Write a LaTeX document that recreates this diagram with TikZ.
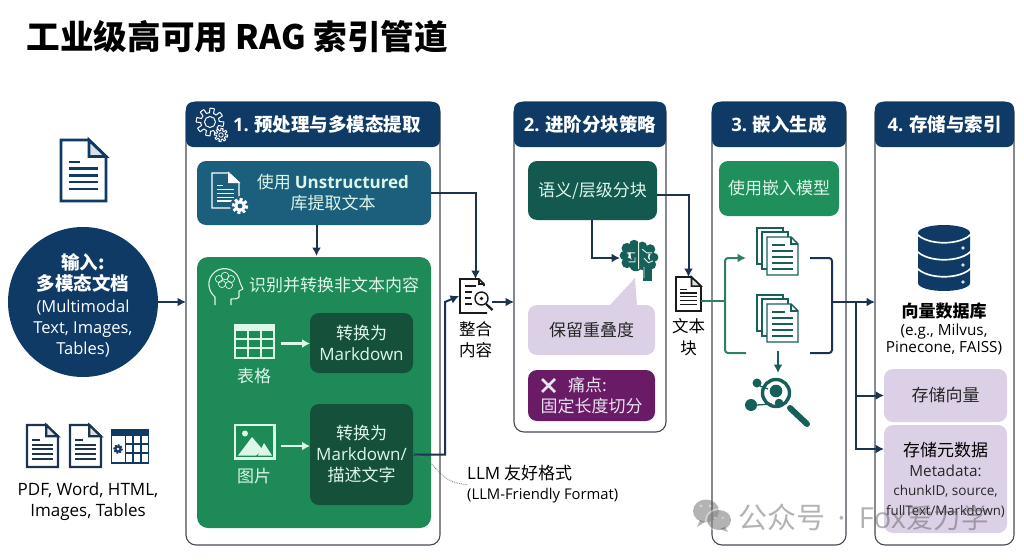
\documentclass[tikz,border=0pt]{standalone}
\usepackage{fontspec}
\setmainfont{Noto Sans CJK SC}
\newfontfamily\lat{Open Sans}
\usetikzlibrary{arrows.meta,calc}
\definecolor{navy}{HTML}{0F3A66}
\definecolor{ink}{HTML}{1B3350}
\definecolor{docblack}{HTML}{1A1A1A}
\definecolor{teala}{HTML}{1C5F7C}
\definecolor{greena}{HTML}{1D8A57}
\definecolor{greenb}{HTML}{14503A}
\definecolor{greenc}{HTML}{1F8F5C}
\definecolor{tealb}{HTML}{14594F}
\definecolor{tealc}{HTML}{17605A}
\definecolor{lilac}{HTML}{DCD0E6}
\definecolor{plum}{HTML}{6A1B66}
\definecolor{mint}{HTML}{DDF6EA}
\definecolor{linkgreen}{HTML}{2D7F5E}
\definecolor{panelline}{HTML}{454B55}
\newcommand\fz[2]{\fontsize{#1}{#2}\selectfont}
\tikzset{
  block/.style={inner sep=0pt,outer sep=0pt,align=center},
  panelbox/.style={block,draw=panelline,line width=1.1pt,fill=white,rounded corners=10pt},
  headerbox/.style={block,fill=navy,rounded corners=7pt,text=white,font=\fz{18.5}{23}\bfseries},
  innerbox/.style={block,rounded corners=9pt,text=mint,font=\fz{17}{21}},
  lilacbox/.style={block,rounded corners=9pt,fill=lilac,text=black!85,font=\fz{17}{21}},
  conn/.style={draw=ink,line width=2pt,-{Latex[length=8.5pt,width=9pt]}},
  plainconn/.style={draw=ink,line width=2pt},
  greenconn/.style={draw=linkgreen,line width=2pt,rounded corners=3pt},
  mintarrow/.style={draw=mint,line width=2.2pt,-{Latex[length=8pt,width=9pt]}},
  hook/.style={inner sep=0pt,outer sep=0pt,minimum size=0pt},
  label/.style={inner sep=0pt,align=center,font=\fz{17}{21}},
  mark text/.style={inner sep=0pt,opacity=.42,text=black!70,font=\fz{29}{33}}
}
\newcommand\bx[6]{%
  \pgfmathsetmacro\cxx{(#3+#5)/2}\pgfmathsetmacro\cyy{(#4+#6)/2}%
  \pgfmathsetmacro\wxx{#5-#3}\pgfmathsetmacro\hyy{#6-#4}%
  \node[#1,minimum width=\wxx pt,minimum height=\hyy pt] (#2) at (\cxx,\cyy)}
\newcommand\docic[7]{%
  \pgfmathsetmacro\wxx{#3-#1}\pgfmathsetmacro\hyy{#4-#2}%
  \begin{scope}[shift={(#1,#2)},xscale=\wxx,yscale=\hyy]
    \draw[#5,fill=#6,line width=#7pt,line join=miter] (0,0)--(.62,0)--(1,.27)--(1,1)--(0,1)--cycle;
    \draw[#5,line width=#7pt,fill=#5!15] (.62,0)--(.62,.27)--(1,.27)--cycle;
    \draw[#5,line width=.85*#7pt] (.17,.36)--(.42,.36);
    \foreach \yy in {.47,.58,.69,.80}{\draw[#5,line width=.85*#7pt] (.17,\yy)--(.83,\yy);}
  \end{scope}}
\newcommand\stackic[2]{%
  \begin{scope}[shift={(#1,#2)}]
    \draw[tealc,fill=white,line width=1.4pt] (0,0) rectangle (26,36);
    \draw[tealc,fill=white,line width=1.4pt] (5,4) rectangle (31,41);
    \draw[tealc,fill=white,line width=1.4pt] (10,9)--(34,9)--(41,16)--(41,47)--(10,47)--cycle;
    \draw[tealc,line width=1.1pt] (34,9)--(34,16)--(41,16);
    \draw[tealc,line width=1.4pt] (15,17)--(28,17);
    \foreach \yy in {23,29,35,41}{\draw[tealc,line width=1.4pt] (15,\yy)--(36,\yy);}
  \end{scope}}
\newcommand\gearic[5]{%
  \draw[shift={(#1,#2)},#4,fill=#5,line join=round] plot[domain=0:360,samples=97] (\x:{#3*(1+.2*sign(sin(8*\x+4)))}) -- cycle;}
\begin{document}
\begin{tikzpicture}[x=1pt,y=-1pt]
\useasboundingbox (0,0) rectangle (1024,559);
\fill[white] (0,0) rectangle (1024,559);
\node[inner sep=0pt,anchor=west,font=\fz{33.6}{37}\bfseries] (title) at (26.5,37) {工业级高可用 RAG 索引管道};

% ---------- input column
\node[circle,fill=navy,minimum size=150pt,inner sep=0pt,outer sep=0pt] (input) at (83,302) {};
\node[inner sep=0pt,align=center,text=white,font=\fz{17}{21.3}] (inputlabel) at (83,305.5)
 {{\fz{18.5}{24}\bfseries 输入:}\\{\fz{18.5}{24}\bfseries 多模态文档}\\{\lat\fz{16.5}{21}(Multimodal}\\{\lat\fz{16.5}{21}Text, Images,}\\{\lat\fz{16.5}{21}Tables)}};
\docic{61}{140}{106}{201}{navy}{white}{2.8}
\docic{27}{425}{58}{467}{ink}{white}{2.2}
\docic{70}{425}{101}{467}{ink}{white}{2.2}
\begin{scope}
  \draw[navy,fill=white,line width=1.8pt] (111.5,429.5) rectangle (148.5,463);
  \fill[navy] (111,429) rectangle (149,436);
  \foreach \xx in {125.5,133,141}{\draw[navy,line width=1.5pt] (\xx,436)--(\xx,463);}
  \foreach \yy in {444,453}{\draw[navy,line width=1.5pt] (125.5,\yy)--(149,\yy);}
  \gearic{118}{449}{3.6}{navy,line width=.6pt}{navy}
  \fill[white] (118,449) circle (1.3pt);
\end{scope}
\node[inner sep=0pt,align=center,font=\lat\fz{17}{21.5}] (formats) at (88,501.5) {PDF, Word, HTML,\\Images, Tables};

% ---------- panels
\bx{panelbox}{panelA}{186}{102}{440}{545}{};
\bx{panelbox}{panelB}{514}{102}{666}{432}{};
\bx{panelbox}{panelC}{712}{102}{846}{545}{};
\bx{panelbox}{panelD}{875}{102}{1014}{545}{};
\bx{headerbox}{headA}{186}{102}{440}{147}{\hspace*{28pt}{\lat 1.} 预处理与多模态提取};
\bx{headerbox}{headB}{514}{102}{666}{147}{{\lat 2.} 进阶分块策略};
\bx{headerbox}{headC}{712}{102}{846}{147}{{\lat 3.} 嵌入生成};
\bx{headerbox}{headD}{875}{102}{1014}{147}{{\lat 4.} 存储与索引};
\gearic{210}{122}{11.5}{white,line width=1pt}{navy}
\draw[white,line width=1pt] (210,122) circle (5.5pt);
\gearic{221}{135}{5.5}{white,line width=1pt}{navy}
\draw[white,line width=.9pt] (221,135) circle (2.2pt);

% ---------- panel 1 contents
\bx{innerbox,fill=teala}{unstr}{197}{161}{431}{225}{\hspace*{38pt}使用 {\lat\bfseries Unstructured}\\\hspace*{38pt}库提取文本};
\docic{212}{173}{239}{208}{white}{teala}{1.2}
\fill[teala] (240,206) circle (10pt);
\gearic{240}{206}{6.5}{white,line width=.5pt}{white}
\fill[teala] (240,206) circle (2.4pt);
\bx{innerbox,fill=greena,rounded corners=11pt}{nontext}{197}{257}{431}{528}{};
\node[label,text=mint,anchor=west] (nontextlabel) at (249,285) {识别并转换非文本内容};
% head and brain
\draw[mint,line width=1.1pt,line join=round] (215,305)--(215,297) .. controls (208,291) and (207,281) .. (212,275)
  .. controls (219,265) and (235,267) .. (239,279) .. controls (240,283) and (241,285) .. (243,289)
  -- (239,291) -- (239,297) .. controls (238,299) and (234,299) .. (231,299) -- (231,305);
\foreach \p/\r in {{(219,279)/3.6},{(225,276)/3.8},{(231,279)/3.6},{(222,284)/3.6},{(229,285)/3.6}}{\draw[mint,line width=.7pt] \p circle (\r pt);}
% table icon
\draw[mint,line width=1.6pt] (235,325) rectangle (274,358);
\fill[mint] (235,325) rectangle (274,331);
\foreach \yy in {339,348}{\draw[mint,line width=1.4pt] (235,\yy)--(274,\yy);}
\foreach \xx in {248,261}{\draw[mint,line width=1.4pt] (\xx,330)--(\xx,358);}
\node[hook,minimum width=39pt,minimum height=33pt] (tableicon) at (254.5,341.5) {};
\node[label,text=mint] (tablelabel) at (254,376) {表格};
\bx{innerbox,fill=greenb}{mdA}{310}{313}{413}{373}{转换为\\{\lat Markdown}};
\draw[mintarrow] (281,343.5) -- (mdA.west |- 0,343.5);
% image icon
\draw[mint,line width=2.4pt] (235,425) rectangle (274.5,458.5);
\fill[mint] (245,433.5) circle (3pt);
\fill[mint] (238,455.5)--(252,437)--(263,450)--(256,455.5)--cycle;
\fill[mint] (258,455.5)--(264,443)--(272,455.5)--cycle;
\node[hook,minimum width=40pt,minimum height=34pt] (imageicon) at (254.5,441.5) {};
\node[label,text=mint] (imagelabel) at (254,476) {图片};
\bx{innerbox,fill=greenb}{mdB}{310}{404}{413}{505}{转换为\\{\lat Markdown/}\\描述文字};
\draw[mintarrow] (281,446) -- (mdB.west |- 0,446);
\draw[conn] (unstr.south -| 316.5,0) -- (316.5,256);

% ---------- merge
\begin{scope}
  \draw[docblack,line width=1.6pt] (484,286)--(484,284)--(479,279)--(460,279)--(460,313)--(487,313);
  \draw[docblack,line width=1.1pt] (479,279)--(479,284)--(484,284);
  \foreach \yy/\xe in {286/476,292/472,298/471,304/472}{\draw[docblack,line width=1.2pt] (465,\yy)--(\xe,\yy);}
  \draw[docblack,line width=1.4pt,fill=white] (481.5,298.5) circle (6.5pt);
  \draw[docblack,line width=2.2pt] (486,304)--(492.5,310);
  \fill[docblack] (481.5,298.5) circle (1.8pt);
\end{scope}
\node[hook,minimum width=33pt,minimum height=34pt] (merge) at (475.5,296) {};
\node[label,font=\fz{16.5}{21.5}] (mergelabel) at (475.5,339.5) {整合\\内容};
\coordinate (rise) at (445,302);
\draw[conn] (unstr.east) -| (merge.north);
\draw[conn] (mdB.east) -| (rise) -- (merge.west);
\draw[conn] (merge.east |- rise) -- (panelB.west |- rise);
\draw[conn] (input.east |- rise) -- (panelA.west |- rise);
% LLM label
\node[inner sep=0pt,anchor=west,align=left,font=\fz{17}{20}] (llm) at (467,484.5) {{\lat LLM} 友好格式\\{\lat\fz{14.8}{17}(LLM-Friendly Format)}};
\draw[black!55,densely dotted,line width=.8pt] (mdB.east) .. controls (438,458) and (435,483) .. (llm.west);

% ---------- panel 2 contents
\bx{innerbox,fill=tealb}{semantic}{528}{161}{657}{220}{语义/层级分块};
\begin{scope}[shift={(639.5,260)},scale=.9]
  \fill[tealc] (-17,-5) circle (5pt) (-14,-13) circle (6pt) (-6,-17) circle (5.5pt) (3,-15) circle (5.5pt)
     (12,-12) circle (5.5pt) (16,-3) circle (5pt) (13,5) circle (5.5pt) (-14,3) circle (6pt) (-4,5) circle (7.5pt) (5,4) circle (7.5pt) (0,-6) circle (10pt);
  \fill[tealc] (4,8) rectangle (14,23);
  \draw[mint,line width=.9pt] (-1,-20)--(-1,10) (-14,-8)--(-5,-8) (-12,2)--(-5,2)--(-5,-3) (3,-12)--(8,-8)--(14,-8) (5,-2)--(10,3)--(15,1) (5,8)--(5,20);
\end{scope}
\node[hook,minimum width=38pt,minimum height=40pt] (brain) at (639,258) {};
\fill[lilac] (609,306)--(635,278)--(637,306)--cycle;
\bx{lilacbox}{overlap}{528}{305}{655}{355}{保留重叠度};
\bx{innerbox,fill=plum,text=lilac!60!white}{pain}{528}{370}{655}{421}{\hspace*{-8pt}痛点:\\固定长度切分};
\draw[lilac!60!white,line width=2.6pt] (542,379)--(555,392) (555,379)--(542,392);
\draw[conn] (semantic.south -| 592,0) |- (brain.west);
\docic{676}{277}{701}{311}{docblack}{white}{1.6}
\node[hook,minimum width=25pt,minimum height=34pt] (chunk) at (688.5,294) {};
\node[label,font=\fz{16.5}{22}] (chunklabel) at (688.5,337) {文本\\块};
\draw[conn] (semantic.east |- 0,195) -| (chunk.north);

% ---------- panel 3 contents
\bx{innerbox,fill=greenc}{embed}{719}{161}{839}{216}{使用嵌入模型};
\stackic{757}{228}
\node[hook,minimum width=41pt,minimum height=47pt] (stackA) at (778,252) {};
\stackic{757}{295}
\node[hook,minimum width=41pt,minimum height=47pt] (stackB) at (778,318) {};
\coordinate (splitL) at (725,301);
\coordinate (topL) at (746,258);
\coordinate (botL) at (746,353);
\coordinate (topR) at (810,258);
\coordinate (botR) at (810,353);
\coordinate (joinR) at (832,302);
\coordinate (branch) at (856,302);
\draw[greenconn] (chunk.east |- splitL) -- (splitL);
\draw[greenconn,-{Latex[length=8.5pt,width=9pt]}] (splitL) |- (topL);
\draw[greenconn] (splitL) |- (botL);
\draw[plainconn,rounded corners=3pt] (topR) -| (joinR) |- (botR);
\draw[conn] (joinR) -- (panelD.west |- joinR);
\begin{scope}
  \draw[tealc,line width=3.4pt,fill=white] (776,393) circle (13.5pt);
  \draw[tealc,line width=6pt,line cap=round] (790,408)--(807,424);
  \fill[tealc] (757,383) circle (4.5pt) (751,405) circle (6pt) (776,391) circle (6.3pt) (779,403) circle (4.3pt) (788,398) circle (1.7pt);
  \draw[tealc,line width=1.3pt] (757,405)--(772,404) (760,386)--(768,389);
\end{scope}
\node[hook,minimum width=40pt,minimum height=40pt] (search) at (776,394) {};
\draw[draw=tealc,line width=2pt,-{Latex[length=8.5pt,width=9pt]}] (stackB.south |- 0,351) -- (stackB.south |- 0,373);

% ---------- panel 4 contents
\begin{scope}
  \fill[navy] (918,233) arc[start angle=180,end angle=360,x radius=26,y radius=8] -- (970,283) arc[start angle=0,end angle=180,x radius=26,y radius=8] -- cycle;
  \foreach \yy in {233,250,267}{\draw[white,line width=1.7pt] (916,\yy) .. controls (926,\yy+13) and (962,\yy+13) .. (972,\yy);}
  \foreach \yy in {248,265,282}{\fill[white!85!navy] (963,\yy) circle (1.9pt);}
\end{scope}
\node[hook,minimum width=52pt,minimum height=66pt] (database) at (944,258) {};
\node[label,font=\fz{17}{21}\bfseries] (dblabel) at (944,311) {向量数据库};
\node[inner sep=0pt,align=center,font=\lat\fz{15.3}{17.5}] (dbnames) at (944,339.5) {(e.g., Milvus,\\Pinecone, FAISS)};
\bx{lilacbox}{storeV}{884}{369}{1007}{422}{存储向量};
\bx{lilacbox}{storeM}{884}{425}{1007}{533}{};
\node[label] (smA) at (945.5,450) {存储元数据};
\node[inner sep=0pt,font=\lat\fz{15.3}{18},text=black!85] (smB) at (945.5,471) {Metadata:};
\node[inner sep=0pt,font=\lat\fz{13.6}{18},text=black!85] (smC) at (945.5,491) {chunkID, source,};
\node[inner sep=0pt,font=\lat\fz{13.2}{18},text=black!85] (smD) at (945.5,511) {fullText/Markdown)};
\draw[conn] (branch) |- (storeV.west);
\draw[conn] (branch) |- (storeM.west |- 0,449);

% ---------- watermark
\begin{scope}[opacity=.42]
  \fill[black!70] (706,511) ellipse (13pt and 11.5pt);
  \fill[black!70] (700,520)--(697,527)--(705,522)--cycle;
  \fill[white] (718.5,520) ellipse (13.5pt and 11.5pt);
  \fill[black!70] (719,520) ellipse (12pt and 10pt);
  \fill[black!70] (725,527)--(728,532)--(720,529)--cycle;
  \fill[white] (701,506) circle (1.7pt) (710,506) circle (1.7pt) (715,518) circle (1.4pt) (723,518) circle (1.4pt);
\end{scope}
\node[mark text,anchor=west] (watermark) at (738,517) {公众号\hspace*{6pt} {\lat ·} \hspace*{7pt}{\lat Fox}{\fz{27.5}{33}爱力学}};
\end{tikzpicture}
\end{document}
